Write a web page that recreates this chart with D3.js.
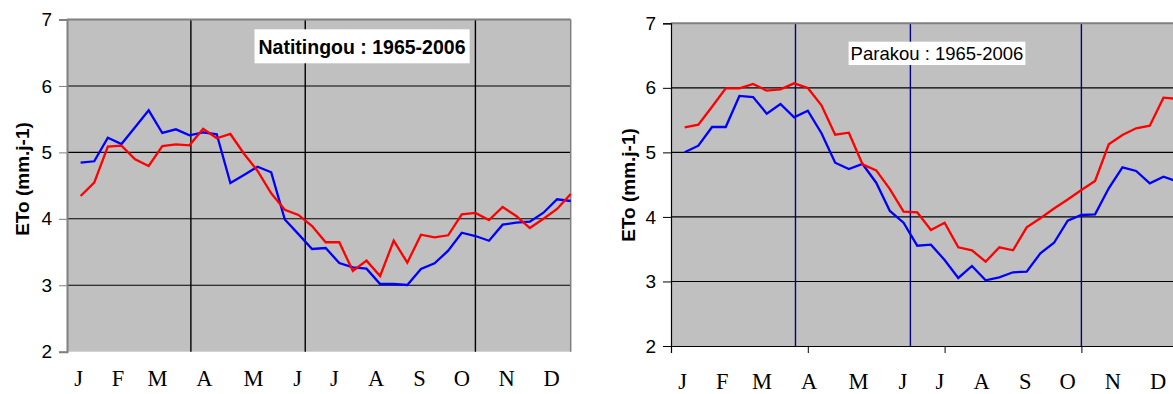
<!DOCTYPE html>
<html>
<head>
<meta charset="utf-8">
<script src="https://cdn.jsdelivr.net/npm/d3@7"></script>
<style>
  html, body { margin: 0; padding: 0; background: #fff; }
  svg { display: block; }
</style>
</head>
<body>
<svg id="chart" width="1173" height="394"></svg>
<script>
// Dekads of the year (1..37) and the ETo series (mm/day) for each station
const dekads = d3.range(1, 38);

const natitingouBlue = [4.845, 4.866, 5.221, 5.126, 5.378, 5.633, 5.292, 5.347, 5.257, 5.302,
  5.272, 4.539, 4.66, 4.785, 4.70, 3.99, 3.77, 3.546, 3.561, 3.335,
  3.27, 3.249, 3.019, 3.019, 3.004, 3.245, 3.33, 3.52, 3.791, 3.741,
  3.67, 3.912, 3.942, 3.957, 4.092, 4.294, 4.268];
const natitingouRed = [4.343, 4.544, 5.086, 5.101, 4.896, 4.795, 5.096, 5.121, 5.106, 5.356,
  5.212, 5.277, 4.98, 4.72, 4.384, 4.135, 4.058, 3.89, 3.647, 3.647,
  3.215, 3.37, 3.139, 3.671, 3.34, 3.761, 3.722, 3.752, 4.068, 4.088,
  3.982, 4.178, 4.042, 3.862, 4.002, 4.148, 4.374];

const parakouBlue = [5.001, 5.104, 5.393, 5.393, 5.874, 5.858, 5.6, 5.75, 5.543, 5.646,
  5.296, 4.84, 4.742, 4.82, 4.53, 4.093, 3.91, 3.554, 3.57, 3.333,
  3.054, 3.24, 3.018, 3.064, 3.142, 3.151, 3.436, 3.6, 3.942, 4.03,
  4.04, 4.443, 4.769, 4.712, 4.521, 4.623, 4.55];
const parakouRed = [5.389, 5.429, 5.708, 5.993, 5.993, 6.06, 5.956, 5.977, 6.07, 5.998,
  5.73, 5.274, 5.305, 4.815, 4.722, 4.43, 4.081, 4.071, 3.797, 3.91,
  3.529, 3.483, 3.306, 3.529, 3.483, 3.839, 3.98, 4.13, 4.27, 4.417,
  4.557, 5.125, 5.27, 5.373, 5.413, 5.847, 5.83];

const monthLabels = ["J", "F", "M", "A", "M", "J", "J", "A", "S", "O", "N", "D"];
const monthPositions = [0.85, 3.75, 6.65, 10.1, 13.7, 16.95, 19.65, 22.7, 25.9, 29.0, 32.3, 35.6];
const seasonMarks = [9.1, 17.5, 30];
const yTicks = [2, 3, 4, 5, 6, 7];
const xTicksParakou = [0, 10, 20, 30];

const svg = d3.select("#chart");

function drawPanel(opt) {
  const x = d3.scaleLinear().domain([0, 37]).range([opt.left, opt.right]);
  const y = d3.scaleLinear().domain([2, 7]).range([opt.bottom, opt.top]);
  const g = svg.append("g");

  // plot area
  g.append("rect")
    .attr("x", opt.left).attr("y", opt.top)
    .attr("width", opt.right - opt.left).attr("height", opt.bottom - opt.top)
    .attr("fill", "#c0c0c0");

  // horizontal gridlines
  g.append("g").selectAll("line")
    .data(yTicks.filter(v => v > 2 && v < 7))
    .join("line")
    .attr("x1", opt.left).attr("x2", opt.right)
    .attr("y1", d => y(d)).attr("y2", d => y(d))
    .attr("stroke", "#000").attr("stroke-width", 1.1);

  // season markers
  g.append("g").selectAll("line")
    .data(seasonMarks)
    .join("line")
    .attr("x1", d => x(d)).attr("x2", d => x(d))
    .attr("y1", opt.top).attr("y2", opt.bottom)
    .attr("stroke", opt.markColor).attr("stroke-width", 1.4);

  // frame
  g.append("line")
    .attr("x1", opt.left).attr("x2", opt.right)
    .attr("y1", opt.top).attr("y2", opt.top)
    .attr("stroke", "#808080").attr("stroke-width", 2);
  g.append("line")
    .attr("x1", opt.right).attr("x2", opt.right)
    .attr("y1", opt.top).attr("y2", opt.bottom)
    .attr("stroke", "#808080").attr("stroke-width", 1.5);

  // y axis
  const yAxis = d3.axisLeft(y).tickValues(yTicks).tickSize(8).tickPadding(7)
    .tickFormat(d3.format("d"));
  const ya = g.append("g").attr("transform", `translate(${opt.left},0)`).call(yAxis);
  ya.select(".domain").attr("stroke", opt.axisColor).attr("stroke-width", opt.axisWidth);
  ya.selectAll(".tick line").attr("stroke", opt.axisColor);
  ya.selectAll(".tick text")
    .attr("font-family", "Liberation Sans, Arial, sans-serif")
    .attr("font-size", 19).attr("fill", "#000");

  // x axis ticks (when present)
  if (opt.xTicks) {
    const xAxis = d3.axisBottom(x).tickValues(opt.xTicks).tickSize(7).tickFormat("");
    const xa = g.append("g").attr("transform", `translate(0,${opt.bottom})`).call(xAxis);
    xa.select(".domain").attr("stroke", "#000").attr("stroke-width", 1.2);
    xa.selectAll(".tick line").attr("stroke", "#000");
  }

  // month labels
  g.append("g").selectAll("text")
    .data(monthLabels)
    .join("text")
    .attr("x", (d, i) => x(monthPositions[i]))
    .attr("y", opt.monthBaseline)
    .attr("text-anchor", "middle")
    .attr("font-family", "Liberation Serif, Times New Roman, serif")
    .attr("font-size", 22.5)
    .attr("fill", "#000")
    .text(d => d);

  // y axis title
  g.append("text")
    .attr("transform", `translate(${opt.yTitleX},${opt.yTitleY}) rotate(-90)`)
    .attr("text-anchor", "middle")
    .attr("font-family", "Liberation Sans, Arial, sans-serif")
    .attr("font-weight", "bold")
    .attr("font-size", 19)
    .attr("fill", "#000")
    .text("ETo (mm.j-1)");

  // series
  const line = d3.line().x((d, i) => x(dekads[i])).y(d => y(d));
  opt.series.forEach(s => {
    g.append("path")
      .datum(s.values)
      .attr("d", line)
      .attr("fill", "none")
      .attr("stroke", s.color)
      .attr("stroke-width", 2.3)
      .attr("stroke-linejoin", "miter");
  });

  // station title with white box
  const t = g.append("text")
    .attr("x", opt.titleX).attr("y", opt.titleY)
    .attr("text-anchor", "middle")
    .attr("font-family", "Liberation Sans, Arial, sans-serif")
    .attr("font-weight", opt.titleWeight)
    .attr("font-size", opt.titleSize)
    .attr("fill", "#000")
    .text(opt.title);
  const bb = t.node().getBBox();
  g.insert("rect", () => t.node())
    .attr("x", bb.x - opt.titlePadX).attr("y", opt.boxTop)
    .attr("width", bb.width + 2 * opt.titlePadX).attr("height", opt.boxHeight)
    .attr("fill", "#fff");
}

drawPanel({
  left: 67, right: 570.7, top: 19.5, bottom: 351.7,
  markColor: "#000", axisColor: "#808080", axisWidth: 2,
  monthBaseline: 386,
  yTitleX: 29, yTitleY: 179,
  title: "Natitingou : 1965-2006", titleWeight: "bold", titleSize: 19.5,
  titleX: 362, titleY: 53.5, titlePadX: 4, boxTop: 29.3, boxHeight: 34,
  series: [{values: natitingouBlue, color: "#0000ff"}, {values: natitingouRed, color: "#ff0000"}]
});

drawPanel({
  left: 671, right: 671 + 37 * 13.68, top: 23.3, bottom: 346,
  markColor: "#000080", axisColor: "#000", axisWidth: 1.2,
  xTicks: xTicksParakou,
  monthBaseline: 388.5,
  yTitleX: 635, yTitleY: 185,
  title: "Parakou : 1965-2006", titleWeight: "normal", titleSize: 18.5,
  titleX: 937, titleY: 60, titlePadX: 2, boxTop: 41.7, boxHeight: 23.3,
  series: [{values: parakouBlue, color: "#0000ff"}, {values: parakouRed, color: "#ff0000"}]
});
</script>
</body>
</html>
